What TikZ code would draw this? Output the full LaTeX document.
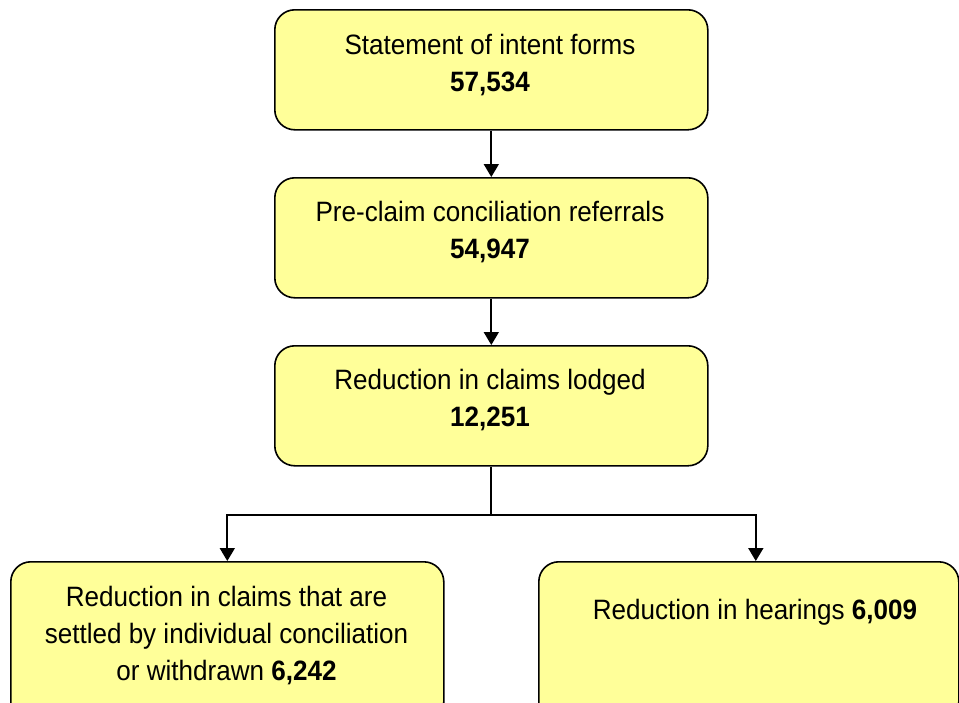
\documentclass[tikz,border=0pt]{standalone}
\usepackage{fontspec}
\setmainfont[FakeStretch=0.93]{Liberation Sans}
\usetikzlibrary{arrows.meta}
\definecolor{boxfill}{HTML}{FFFF99}

\begin{document}
\begin{tikzpicture}[x=1pt,y=-1pt,
  box/.style={draw=black, line width=1.6pt, fill=boxfill, rounded corners=20pt,
    inner sep=0pt, anchor=north west},
  txt/.style={font=\fontsize{28}{37}\selectfont, align=center, inner sep=0pt, anchor=north},
  link/.style={line width=1.8pt},
  flow/.style={link, -{Triangle[width=15pt,length=13pt]}}]

  \clip (0,0) rectangle (959,702);

  % boxes
  \node[box, minimum width=433pt, minimum height=120pt] (b1) at (274,9) {};
  \node[box, minimum width=433pt, minimum height=120pt] (b2) at (274,177) {};
  \node[box, minimum width=433pt, minimum height=120pt] (b3) at (274,345) {};
  \node[box, minimum width=433pt, minimum height=160pt] (b4) at (10,561) {};
  \node[box, minimum width=420pt, minimum height=160pt] (b5) at (538,561) {};

  % labels
  \node[txt] (t1) at (490,34) {Statement of intent forms\\\textbf{57,534}};
  \node[txt] (t2) at (490,201) {Pre-claim conciliation referrals\\\textbf{54,947}};
  \node[txt] (t3) at (490,369) {Reduction in claims lodged\\\textbf{12,251}};
  \node[txt] (t4) at (226.5,586) {Reduction in claims that are\\settled by individual conciliation\\or withdrawn \textbf{6,242}};
  \node[txt] (t5) at (755,599) {Reduction in hearings \textbf{6,009}};

  % connectors
  \path (b3.south) ++(0,48) coordinate (split);
  \path (b5.north) ++(7,0) coordinate (r5);
  \draw[flow] (b1.south) -- (b2.north);
  \draw[flow] (b2.south) -- (b3.north);
  \draw[link] (b3.south) -- (split);
  \draw[flow] (split) -| (b4.north);
  \draw[flow] (split) -| (r5);
\end{tikzpicture}
\end{document}
